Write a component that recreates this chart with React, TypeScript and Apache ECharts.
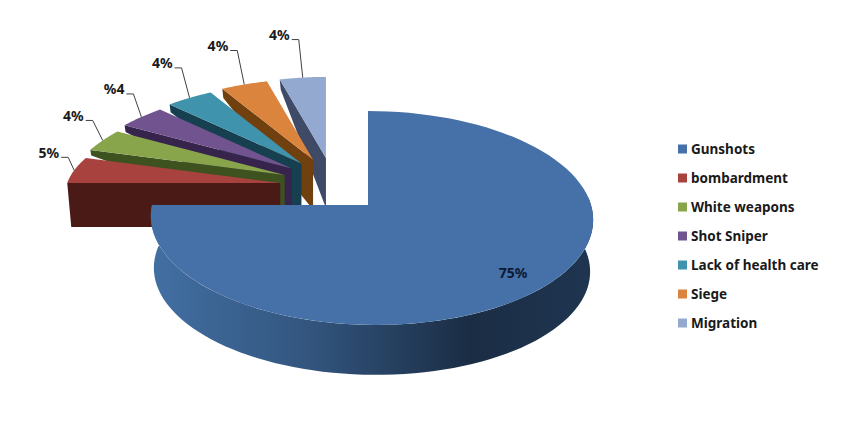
import React, { useEffect, useRef } from "react";
import * as echarts from "echarts";

const categories = ["Gunshots", "bombardment", "White weapons", "Shot Sniper", "Lack of health care", "Siege", "Migration"];
const shares = [75, 5, 4, 4, 4, 4, 4];
const labelTexts = ["75%", "5%", "4%", "%4", "4%", "4%", "4%"];
const topColors = ["#4571a8", "#a8423f", "#88a54c", "#71548f", "#3f93ad", "#db843d", "#93a9cf"];
const sideColors = ["#2b4a6e", "#4a1a17", "#3e5220", "#36244c", "#163f50", "#70400f", "#3f4a66"];
// leader-line elbow offset from the rim midpoint of each exploded slice
const elbowOffsets: number[][] = [[0, 0], [-6, -13], [-10, -20], [-8, -23], [-8, -30], [-7, -34], [-4, -38]];

const total = shares.reduce((a, b) => a + b, 0);
const startAngles: number[] = [];
shares.reduce((acc, v, i) => {
  startAngles[i] = acc;
  return acc + (v / total) * Math.PI * 2;
}, 0);

// Projection of the main slice's disc (perspective homography)
const mainTop = { ax: 368, ay: 205, A: 105.4, B: 219.5, c: 3.5, p: 0.1215 };
const mainBase = { ax: 368, ay: 257, A: 103.5, B: 216.5, c: 3.5, p: 0.1215 };
const project = (m: typeof mainTop, phi: number) => {
  const u = Math.sin(phi);
  const v = Math.cos(phi);
  const w = 1 + m.p * v;
  return [m.ax + (m.B * u + m.c * (1 - v)) / w, m.ay - (m.A * v) / w];
};
const arc = (fn: (a: number) => number[], a0: number, a1: number, n = 90) => {
  const out: number[][] = [];
  for (let i = 0; i <= n; i++) out.push(fn(a0 + ((a1 - a0) * i) / n));
  return out;
};

// Exploded back slices: common centre, radii and explosion distances
const back = { cx: 332.6, cy: 187.7, rx: 213, rxShrink: 28, ry: 81, ex: 53, ey: 30, apexDepth: 50, faceDepth: 44 };
const bold = '700 14px "Noto Sans", sans-serif';

const renderSlice = (params: any, api: any) => {
  const i = params.seriesIndex;
  const value = api.value(0);
  const a0 = startAngles[i];
  const a1 = a0 + (value / total) * Math.PI * 2;
  const children: any[] = [];

  if (i === 0) {
    const sideFrom = (85 * Math.PI) / 180;
    const baseEnd = (300 * Math.PI) / 180; // runs on under the top face so the outlines meet cleanly
    const sidePts = [
      ...arc((a) => project(mainTop, a), sideFrom, a1),
      ...arc((a) => project(mainBase, a), baseEnd, sideFrom),
    ];
    children.push({
      type: "polygon",
      z2: 1,
      shape: { points: sidePts },
      style: {
        fill: new echarts.graphic.LinearGradient(0, 0, 1, 0, [
          { offset: 0, color: "#426fa3" },
          { offset: 0.35, color: "#33567f" },
          { offset: 0.72, color: "#1b2d45" },
          { offset: 1, color: "#1f3550" },
        ]),
      },
    });
    children.push({
      type: "polygon",
      z2: 2,
      shape: { points: [[mainTop.ax, mainTop.ay], ...arc((a) => project(mainTop, a), a0, a1)] },
      style: { fill: topColors[i] },
    });
    const mid = project(mainTop, (118 * Math.PI) / 180);
    children.push({
      type: "text",
      z2: 3,
      x: mid[0] - 66,
      y: mid[1] + 15,
      style: { text: labelTexts[i], font: bold, fill: "#0d1a33", textAlign: "center", textVerticalAlign: "middle" },
    });
    return { type: "group", children };
  }

  const t0 = a0 - Math.PI * 1.5;
  const t1 = a1 - Math.PI * 1.5;
  const tm = (t0 + t1) / 2;
  const apex = [back.cx - back.ex * Math.cos(tm), back.cy - back.ey * Math.sin(tm)];
  const rim = (t: number) => [
    apex[0] - (back.rx - back.rxShrink * Math.sin(t)) * Math.cos(t),
    apex[1] - back.ry * Math.sin(t),
  ];
  const start = rim(t0);
  const rimDepth = t0 < 0.01 ? back.faceDepth : 4 + (t0 * 180) / Math.PI / 12;
  const apexDepth = t0 < 0.01 ? back.faceDepth : back.apexDepth;
  const inset = t0 < 0.01 ? 4 : 1;
  children.push({
    type: "polygon",
    shape: {
      points: [apex, start, [start[0] + inset, start[1] + rimDepth], [apex[0], apex[1] + apexDepth]],
    },
    style: { fill: sideColors[i] },
  });
  children.push({
    type: "polygon",
    shape: { points: [apex, ...arc(rim, t0, t1, 30)] },
    style: { fill: topColors[i] },
  });
  const end = rim(tm);
  const elbow = [end[0] + elbowOffsets[i][0], end[1] + elbowOffsets[i][1]];
  const lineStart = [elbow[0] - 7, elbow[1]];
  children.push({
    type: "polyline",
    shape: { points: [end, elbow, lineStart] },
    style: { stroke: "#404040", lineWidth: 1, fill: "none" },
  });
  children.push({
    type: "text",
    x: lineStart[0] - 2,
    y: lineStart[1] - 5,
    style: { text: labelTexts[i], font: bold, fill: "#1a1a1a", textAlign: "right", textVerticalAlign: "middle" },
  });
  return { type: "group", children };
};

export default function App() {
  const ref = useRef<HTMLDivElement>(null);
  useEffect(() => {
    document.body.style.margin = "0";
    document.body.style.background = "#ffffff";
    const chart = echarts.init(ref.current!, null, { renderer: "svg" });
    chart.setOption({
      animation: false,
      backgroundColor: "#ffffff",
      legend: {
        orient: "vertical",
        left: 673,
        top: 136,
        itemWidth: 9,
        itemHeight: 9,
        itemGap: 13,
        icon: "rect",
        selectedMode: false,
        data: categories,
        textStyle: { fontFamily: '"Noto Sans", sans-serif', fontWeight: 700, fontSize: 13.5, color: "#1a1a1a", lineHeight: 16, height: 16, padding: [0, 0, 0, -1] },
      },
      // painted back to front: main slice on top
      series: categories.map((name, i) => ({
        type: "custom",
        name,
        coordinateSystem: "none",
        z: i === 0 ? 10 : 9 - i,
        itemStyle: { color: topColors[i] },
        renderItem: renderSlice,
        data: [[shares[i]]],
        silent: true,
      })),
    });
    return () => chart.dispose();
  }, []);
  return <div ref={ref} style={{ width: 860, height: 430 }} />;
}
